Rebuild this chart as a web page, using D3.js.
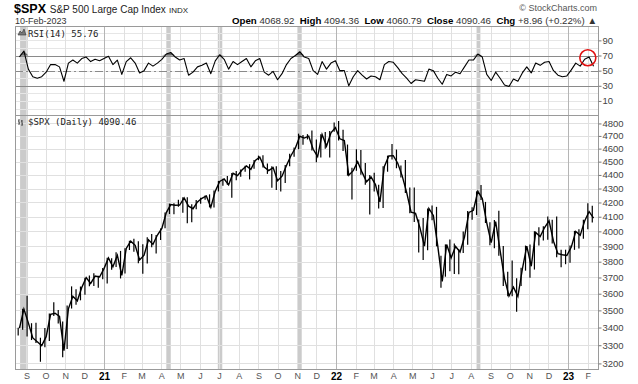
<!DOCTYPE html>
<html>
<head>
<meta charset="utf-8">
<title>$SPX Daily with RSI(14)</title>
<script src="https://cdn.jsdelivr.net/npm/d3@7"></script>
<style>
  body { margin: 0; background: #fff; }
  text { font-family: "Liberation Sans", Arial, sans-serif; }
  .mono { font-family: "DejaVu Sans Mono", monospace; }
</style>
</head>
<body>
<div id="container"></div>
<script>
// weekly bars, week ending Friday 21-Aug-2020 ... 10-Feb-2023
const weekHigh = [
  // 2020
  3399, 3509, 3588, 3425, 3428, 3342, 3397, 3482, 3549, 3502, 3435, 3529, 3645, 3628, 3644, 3699, 3712, 3726, 3711, 3760,
  // 2021
  3826, 3823, 3861, 3870, 3887, 3937, 3950, 3934, 3914, 3960, 3983, 3975, 4020, 4130, 4192, 4195, 4219, 4238, 4237, 4187,
  4218, 4234, 4250, 4258, 4286, 4356, 4372, 4393, 4415, 4429, 4441, 4468, 4481, 4513, 4546, 4549, 4486, 4466, 4465, 4429,
  4475, 4560, 4608, 4718, 4707, 4714, 4744, 4672, 4713, 4732, 4740, 4808,
  // 2022
  4819, 4749, 4632, 4453, 4595, 4590, 4490, 4400, 4416, 4327, 4465, 4546, 4637, 4593, 4471, 4513, 4308, 4307, 4081, 4091,
  4158, 4178, 4169, 3838, 3913, 3946, 3919, 3882, 3999, 4140, 4167, 4280, 4325, 4204, 4062, 4077, 4141, 3903, 3736, 3807,
  3696, 3762, 3905, 3912, 4001, 4028, 4034, 4101, 4080, 4101, 3877, 3878,
  // 2023
  3906, 4003, 4015, 4079, 4195, 4176
];
const weekLow = [
  3355, 3387, 3349, 3329, 3313, 3209, 3288, 3323, 3467, 3424, 3233, 3279, 3511, 3533, 3560, 3594, 3645, 3648, 3636, 3689,
  3663, 3749, 3767, 3694, 3725, 3876, 3865, 3790, 3723, 3789, 3894, 3853, 3942, 4021, 4119, 4118, 4169, 4128, 4056, 4062,
  4153, 4191, 4219, 4165, 4164, 4279, 4321, 4327, 4233, 4360, 4386, 4423, 4367, 4447, 4511, 4455, 4408, 4305, 4289, 4278,
  4340, 4465, 4537, 4595, 4630, 4672, 4585, 4495, 4532, 4600, 4531, 4733,
  4663, 4582, 4395, 4222, 4431, 4401, 4327, 4115, 4279, 4157, 4161, 4424, 4517, 4450, 4381, 4268, 4124, 4063, 3859, 3811,
  3875, 4075, 3900, 3637, 3705, 3739, 3722, 3721, 3856, 3911, 4079, 4112, 4218, 4057, 3907, 3887, 3838, 3647, 3585, 3584,
  3492, 3647, 3743, 3699, 3750, 3906, 3938, 3944, 3918, 3828, 3765, 3784,
  3794, 3877, 3885, 3950, 4015, 4061
];
const weekClose = [
  3397, 3508, 3427, 3341, 3319, 3298, 3348, 3477, 3483, 3465, 3270, 3509, 3585, 3557, 3638, 3699, 3663, 3709, 3703, 3756,
  3824, 3768, 3841, 3714, 3886, 3934, 3907, 3811, 3842, 3943, 3913, 3975, 4020, 4129, 4185, 4180, 4181, 4232, 4174, 4156,
  4204, 4230, 4247, 4166, 4281, 4352, 4370, 4327, 4412, 4395, 4437, 4468, 4442, 4509, 4535, 4459, 4433, 4455, 4357, 4391,
  4471, 4545, 4605, 4697, 4683, 4698, 4595, 4538, 4712, 4620, 4725, 4766,
  4677, 4663, 4398, 4432, 4500, 4419, 4349, 4385, 4329, 4204, 4463, 4543, 4546, 4488, 4393, 4272, 4132, 4123, 4024, 3901,
  4158, 4109, 3901, 3675, 3912, 3825, 3899, 3863, 3962, 4130, 4145, 4280, 4228, 4058, 3924, 4067, 3873, 3693, 3586, 3640,
  3583, 3753, 3901, 3771, 3993, 3965, 4026, 4072, 3934, 3852, 3845, 3840,
  3895, 3999, 3973, 4071, 4136, 4090.46
];
const rsi14 = [
  68, 76, 52, 42, 40, 42, 48, 58, 58, 55, 36, 60, 64, 60, 66, 68, 62, 65, 63, 66,
  69, 58, 64, 45, 62, 67, 60, 47, 50, 60, 56, 60, 65, 72, 74, 68, 64, 66, 44, 48,
  55, 57, 60, 46, 63, 71, 65, 52, 62, 58, 62, 66, 55, 63, 66, 48, 44, 49, 38, 46,
  58, 66, 70, 75, 68, 66, 50, 45, 62, 52, 60, 63,
  50, 50, 30, 42, 50, 44, 39, 43, 42, 38, 58, 62, 61, 54, 46, 40, 33, 38, 37, 36,
  52, 50, 40, 32, 45, 43, 48, 46, 55, 64, 64, 72, 68, 45, 37, 48, 40, 31, 29, 39,
  36, 47, 55, 47, 60, 57, 61, 62, 50, 44, 42, 43,
  51, 60, 56, 65, 68, 55.76
];

const monthLabels = ["S", "O", "N", "D", "21", "F", "M", "A", "M", "J", "J", "A", "S", "O", "N", "D",
  "22", "F", "M", "A", "M", "J", "J", "A", "S", "O", "N", "D", "23", "F"];
const priceTicks = [3200, 3300, 3400, 3500, 3600, 3700, 3800, 3900, 4000, 4100, 4200, 4300, 4400, 4500, 4600, 4700, 4800];
const rsiTicks = [10, 30, 50, 70, 90];
const rsiGrid = [0, 10, 20, 30, 40, 50, 60, 70, 80, 90, 100];

// periods with RSI above 70 (shaded)
const bandDates = [["2020-08-22", "2020-09-03"], ["2021-04-09", "2021-04-16"], ["2021-06-29", "2021-07-06"],
  ["2021-11-02", "2021-11-08"], ["2022-08-10", "2022-08-16"]];

// layout
const width = 638, height = 384;
const left = 15, right = 598;
const rsiTop = 26, rsiBottom = 115, priceTop = 115, priceBottom = 369;

const parse = d3.timeParse("%Y-%m-%d");
const weeks = d3.timeFriday.range(new Date(2020, 7, 21), new Date(2023, 1, 11));
const months = d3.timeMonth.range(new Date(2020, 8, 1), new Date(2023, 2, 1));

const x = d3.scaleTime()
  .domain([new Date(2020, 7, 14), new Date(2023, 1, 17)])
  .range([left, right]);
const yPrice = d3.scaleLog().domain([3170, 4869]).range([priceBottom, priceTop]);
const yRsi = d3.scaleLinear().domain([0, 100]).range([108.5, 32.8]);

const svg = d3.select("#container").append("svg")
  .attr("width", width)
  .attr("height", height);

const defs = svg.append("defs");
defs.append("clipPath").attr("id", "clipRsi").append("rect")
  .attr("x", left).attr("y", rsiTop).attr("width", right - left).attr("height", rsiBottom - rsiTop);
defs.append("clipPath").attr("id", "clipPrice").append("rect")
  .attr("x", left).attr("y", priceTop).attr("width", right - left).attr("height", priceBottom - priceTop);

// shaded bands
svg.append("g").selectAll("rect")
  .data(bandDates)
  .join("rect")
  .attr("x", d => x(parse(d[0])))
  .attr("width", d => x(parse(d[1])) - x(parse(d[0])))
  .attr("y", rsiTop)
  .attr("height", priceBottom - rsiTop)
  .attr("fill", "#cbcbcb");

// horizontal grid
svg.append("g").selectAll("line")
  .data(priceTicks)
  .join("line")
  .attr("x1", left).attr("x2", right)
  .attr("y1", d => Math.round(yPrice(d)) + 0.5).attr("y2", d => Math.round(yPrice(d)) + 0.5)
  .attr("stroke", "#e0e0e0");

svg.append("g").selectAll("line")
  .data(rsiGrid)
  .join("line")
  .attr("x1", left).attr("x2", right)
  .attr("y1", d => Math.round(yRsi(d)) + 0.5).attr("y2", d => Math.round(yRsi(d)) + 0.5)
  .attr("stroke", "#e6e6e6");

// vertical grid
svg.append("g").selectAll("line")
  .data(months)
  .join("line")
  .attr("x1", d => Math.round(x(d)) + 0.5).attr("x2", d => Math.round(x(d)) + 0.5)
  .attr("y1", rsiTop).attr("y2", priceBottom)
  .attr("stroke", d => d.getMonth() === 0 ? "#b5b5b5" : "#e0e0e0");

// RSI reference levels
const rsiRef = svg.append("g");
[70, 30].forEach(v => {
  rsiRef.append("line")
    .attr("x1", left).attr("x2", right)
    .attr("y1", Math.round(yRsi(v)) + 0.5).attr("y2", Math.round(yRsi(v)) + 0.5)
    .attr("stroke", "#8a8a8a");
});
rsiRef.append("line")
  .attr("x1", left).attr("x2", right)
  .attr("y1", Math.round(yRsi(50)) + 0.5).attr("y2", Math.round(yRsi(50)) + 0.5)
  .attr("stroke", "#8a8a8a")
  .attr("stroke-dasharray", "8,3,2,3");

// RSI line
const rsiG = svg.append("g").attr("clip-path", "url(#clipRsi)");
rsiG.append("path")
  .datum(rsi14)
  .attr("fill", "#666")
  .attr("d", d3.area()
    .x((d, i) => x(weeks[i]))
    .y0(yRsi(70))
    .y1(d => yRsi(Math.max(d, 70))));
rsiG.append("path")
  .datum(rsi14)
  .attr("fill", "#666")
  .attr("d", d3.area()
    .x((d, i) => x(weeks[i]))
    .y0(yRsi(30))
    .y1(d => yRsi(Math.min(d, 30))));
rsiG.append("path")
  .datum(rsi14)
  .attr("fill", "none")
  .attr("stroke", "#000")
  .attr("stroke-width", 1.1)
  .attr("stroke-linejoin", "round")
  .attr("d", d3.line()
    .x((d, i) => x(weeks[i]))
    .y(d => yRsi(d)));

// red highlight on latest RSI push
svg.append("circle")
  .attr("cx", x(new Date(2023, 1, 1)))
  .attr("cy", yRsi(67))
  .attr("r", 8)
  .attr("fill", "none")
  .attr("stroke", "#e01010")
  .attr("stroke-width", 1.6);

// price: weekly range bars + close line
const priceG = svg.append("g").attr("clip-path", "url(#clipPrice)");
priceG.selectAll("line")
  .data(weeks)
  .join("line")
  .attr("x1", d => x(d3.timeDay.offset(d, -2)))
  .attr("x2", d => x(d3.timeDay.offset(d, -2)))
  .attr("y1", (d, i) => yPrice(weekLow[i]))
  .attr("y2", (d, i) => yPrice(weekHigh[i]))
  .attr("stroke", "#000")
  .attr("stroke-width", 1.2);
priceG.append("path")
  .datum(weekClose)
  .attr("fill", "none")
  .attr("stroke", "#000")
  .attr("stroke-width", 1.4)
  .attr("d", d3.line()
    .x((d, i) => x(weeks[i]))
    .y(d => yPrice(d)));

// panel borders
svg.append("rect")
  .attr("x", left + 0.5).attr("y", rsiTop + 0.5)
  .attr("width", right - left).attr("height", rsiBottom - rsiTop)
  .attr("fill", "none").attr("stroke", "#9a9a9a");
svg.append("rect")
  .attr("x", left + 0.5).attr("y", priceTop + 0.5)
  .attr("width", right - left).attr("height", priceBottom - priceTop)
  .attr("fill", "none").attr("stroke", "#9a9a9a");

// right axes
const priceAxis = svg.append("g")
  .attr("transform", `translate(${right + 0.5},0)`)
  .call(d3.axisRight(yPrice).tickValues(priceTicks).tickFormat(d3.format("d")).tickSize(3).tickPadding(1));
const rsiAxis = svg.append("g")
  .attr("transform", `translate(${right + 0.5},0)`)
  .call(d3.axisRight(yRsi).tickValues(rsiTicks).tickSize(3).tickPadding(1));
[priceAxis, rsiAxis].forEach(g => {
  g.select(".domain").remove();
  g.selectAll(".tick line").attr("stroke", "#777");
  g.selectAll("text")
    .attr("fill", "#444")
    .style("font-family", "'Liberation Sans', Arial, sans-serif")
    .style("font-size", "9.5px");
});

// bottom month labels
const xAxis = svg.append("g")
  .attr("transform", `translate(0,${priceBottom})`)
  .call(d3.axisBottom(x).tickValues(months).tickSize(0).tickPadding(4)
    .tickFormat((d, i) => monthLabels[i]));
xAxis.select(".domain").remove();
xAxis.selectAll("text")
  .style("font-family", "'Liberation Sans', Arial, sans-serif")
  .style("font-size", (d, i) => /^\d/.test(monthLabels[i]) ? "10px" : "9px")
  .style("font-weight", (d, i) => /^\d/.test(monthLabels[i]) ? "bold" : "normal")
  .attr("fill", (d, i) => /^\d/.test(monthLabels[i]) ? "#000" : "#555");

// header
const title = svg.append("text").attr("x", 14).attr("y", 13).attr("fill", "#222");
title.append("tspan").text("$SPX").attr("font-weight", "bold").attr("font-size", "12.5px").attr("fill", "#000");
title.append("tspan").text(" S&P 500 Large Cap Index").attr("font-size", "10px").attr("dx", 1);
title.append("tspan").text(" INDX").attr("font-size", "8px").attr("dx", 1);

svg.append("text").attr("x", 15).attr("y", 24)
  .attr("font-size", "9px").attr("fill", "#333").text("10-Feb-2023");

svg.append("text").attr("x", 597).attr("y", 10.5).attr("text-anchor", "end")
  .attr("font-size", "9px").attr("fill", "#555").text("\u00a9 StockCharts.com");

const quote = svg.append("text").attr("x", 597).attr("y", 24).attr("text-anchor", "end")
  .attr("font-size", "9.7px").attr("fill", "#333").attr("xml:space", "preserve");
[["Open", " 4068.92  "], ["High", " 4094.36  "], ["Low", " 4060.79  "], ["Close", " 4090.46  "], ["Chg", " +8.96 (+0.22%) \u25b2"]]
  .forEach(([k, v]) => {
    quote.append("tspan").text(k).attr("font-weight", "bold").attr("fill", "#000");
    quote.append("tspan").text(v);
  });

// panel captions with small icons
svg.append("path")
  .attr("d", "M18,35 L20,31 L22,33 L24,29 L26,35 Z")
  .attr("fill", "#777").attr("stroke", "#333").attr("stroke-width", 0.6);
svg.append("text").attr("class", "mono").attr("x", 28).attr("y", 36.5)
  .attr("font-size", "9px").attr("fill", "#222").text("RSI(14) 55.76");

svg.append("path")
  .attr("d", "M19,119 V125 M18,121 H19 M19,123 H20 M22,120 V126 M21,121 H22 M22,124 H23")
  .attr("stroke", "#333").attr("stroke-width", 0.9).attr("fill", "none");
svg.append("text").attr("class", "mono").attr("x", 28).attr("y", 125)
  .attr("font-size", "9px").attr("fill", "#222").text("$SPX (Daily) 4090.46");
</script>
</body>
</html>
